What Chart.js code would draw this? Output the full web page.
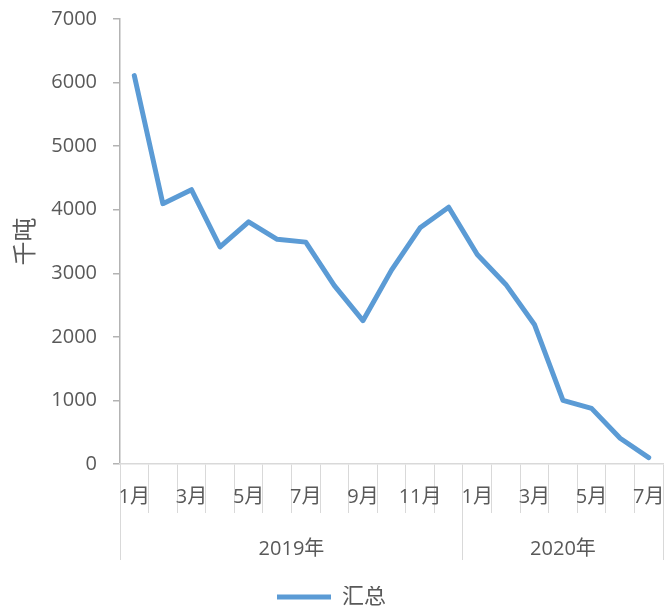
<!DOCTYPE html>
<html>
<head>
<meta charset="utf-8">
<script src="https://cdn.jsdelivr.net/npm/chart.js@4.4.1/dist/chart.umd.min.js"></script>
<style>
  html, body { margin: 0; padding: 0; background: #ffffff; }
  #wrap { width: 664px; height: 607px; position: relative; }
</style>
</head>
<body>
<div id="wrap"><canvas id="c" width="664" height="607"></canvas></div>
<script>
// ---- data ----
const months = ['1月','2月','3月','4月','5月','6月','7月','8月','9月','10月','11月','12月',
                '1月','2月','3月','4月','5月','6月','7月'];
const years = ['2019年', '2020年'];
const yearSpans = [12, 7]; // number of months in each year group
const seriesName = '汇总';
const values = [6110, 4095, 4315, 3415, 3810, 3535, 3490, 2805, 2255, 3050, 3715, 4040,
                3295, 2825, 2195, 1000, 875, 405, 100];
const yTicks = [0, 1000, 2000, 3000, 4000, 5000, 6000, 7000];
const yTitle = '千吨';

// ---- derived: group boundaries and centers for year axis ----
const boundaries = [0];
yearSpans.forEach(s => boundaries.push(boundaries[boundaries.length - 1] + s));
const yearCenters = yearSpans.map((s, i) => boundaries[i] + s / 2);

const FONT = "'Open Sans', 'Noto Sans CJK SC', sans-serif";
const TXT = '#595959';

new Chart(document.getElementById('c'), {
  type: 'line',
  data: {
    labels: months,
    datasets: [{
      label: seriesName,
      data: values,
      borderColor: '#5B9BD5',
      backgroundColor: '#5B9BD5',
      borderWidth: 5,
      borderCapStyle: 'round',
      borderJoinStyle: 'round',
      pointRadius: 0,
      pointHoverRadius: 0,
      tension: 0,
      fill: false
    }]
  },
  options: {
    responsive: false,
    animation: false,
    events: [],
    layout: { padding: { top: 19, right: 1, left: 0, bottom: -11 } },
    plugins: {
      tooltip: { enabled: false },
      legend: {
        position: 'bottom',
        labels: {
          usePointStyle: true,
          pointStyle: 'line',
          pointStyleWidth: 54,
          color: TXT,
          font: { family: FONT, size: 22, lineHeight: 0.9 },
          padding: 0
        }
      }
    },
    scales: {
      y: {
        min: 0,
        max: 7000,
        afterBuildTicks: s => { s.ticks = yTicks.map(v => ({ value: v })); },
        afterFit: s => { s.width = 120; s.paddingTop = 0; s.paddingBottom = 0; },
        grid: { drawOnChartArea: false, drawTicks: true, tickLength: 7, color: '#b3b3b3', lineWidth: 1.5 },
        border: { display: true, color: '#b3b3b3', width: 1.5 },
        ticks: {
          color: TXT, font: { family: FONT, size: 20 }, padding: 16,
          callback: v => String(v)
        },
        title: {
          display: true,
          text: yTitle,
          color: TXT,
          font: { family: FONT, size: 24 },
          padding: { top: 12, bottom: 0 }
        }
      },
      x: {
        type: 'category',
        offset: true,
        weight: 0,
        afterFit: s => { s.height = 49; },
        grid: { offset: true, drawOnChartArea: false, drawTicks: true, tickLength: 49, color: '#d9d9d9', lineWidth: 1 },
        border: { display: true, color: '#d9d9d9', width: 1.5 },
        ticks: {
          autoSkip: false,
          maxRotation: 0,
          minRotation: 0,
          padding: -28,
          color: TXT,
          font: { family: FONT, size: 20 },
          callback: function (value, index) { return index % 2 === 0 ? months[index] : ''; }
        }
      },
      x2: {
        type: 'linear',
        position: 'bottom',
        weight: 1,
        min: 0,
        max: months.length,
        afterBuildTicks: s => {
          const vals = boundaries.concat(yearCenters).sort((a, b) => a - b);
          s.ticks = vals.map(v => ({ value: v }));
        },
        afterFit: s => { s.height = 73; },
        grid: {
          drawOnChartArea: false,
          drawTicks: true,
          tickLength: 47,
          lineWidth: 1,
          color: ctx => (ctx.tick && boundaries.includes(ctx.tick.value)) ? '#d9d9d9' : 'rgba(0,0,0,0)'
        },
        border: { display: false },
        ticks: {
          autoSkip: false,
          maxRotation: 0,
          minRotation: 0,
          padding: -23,
          color: TXT,
          font: { family: FONT, size: 20 },
          callback: function (value) {
            const i = yearCenters.indexOf(value);
            return i >= 0 ? years[i] : '';
          }
        }
      }
    }
  }
});
</script>
</body>
</html>
